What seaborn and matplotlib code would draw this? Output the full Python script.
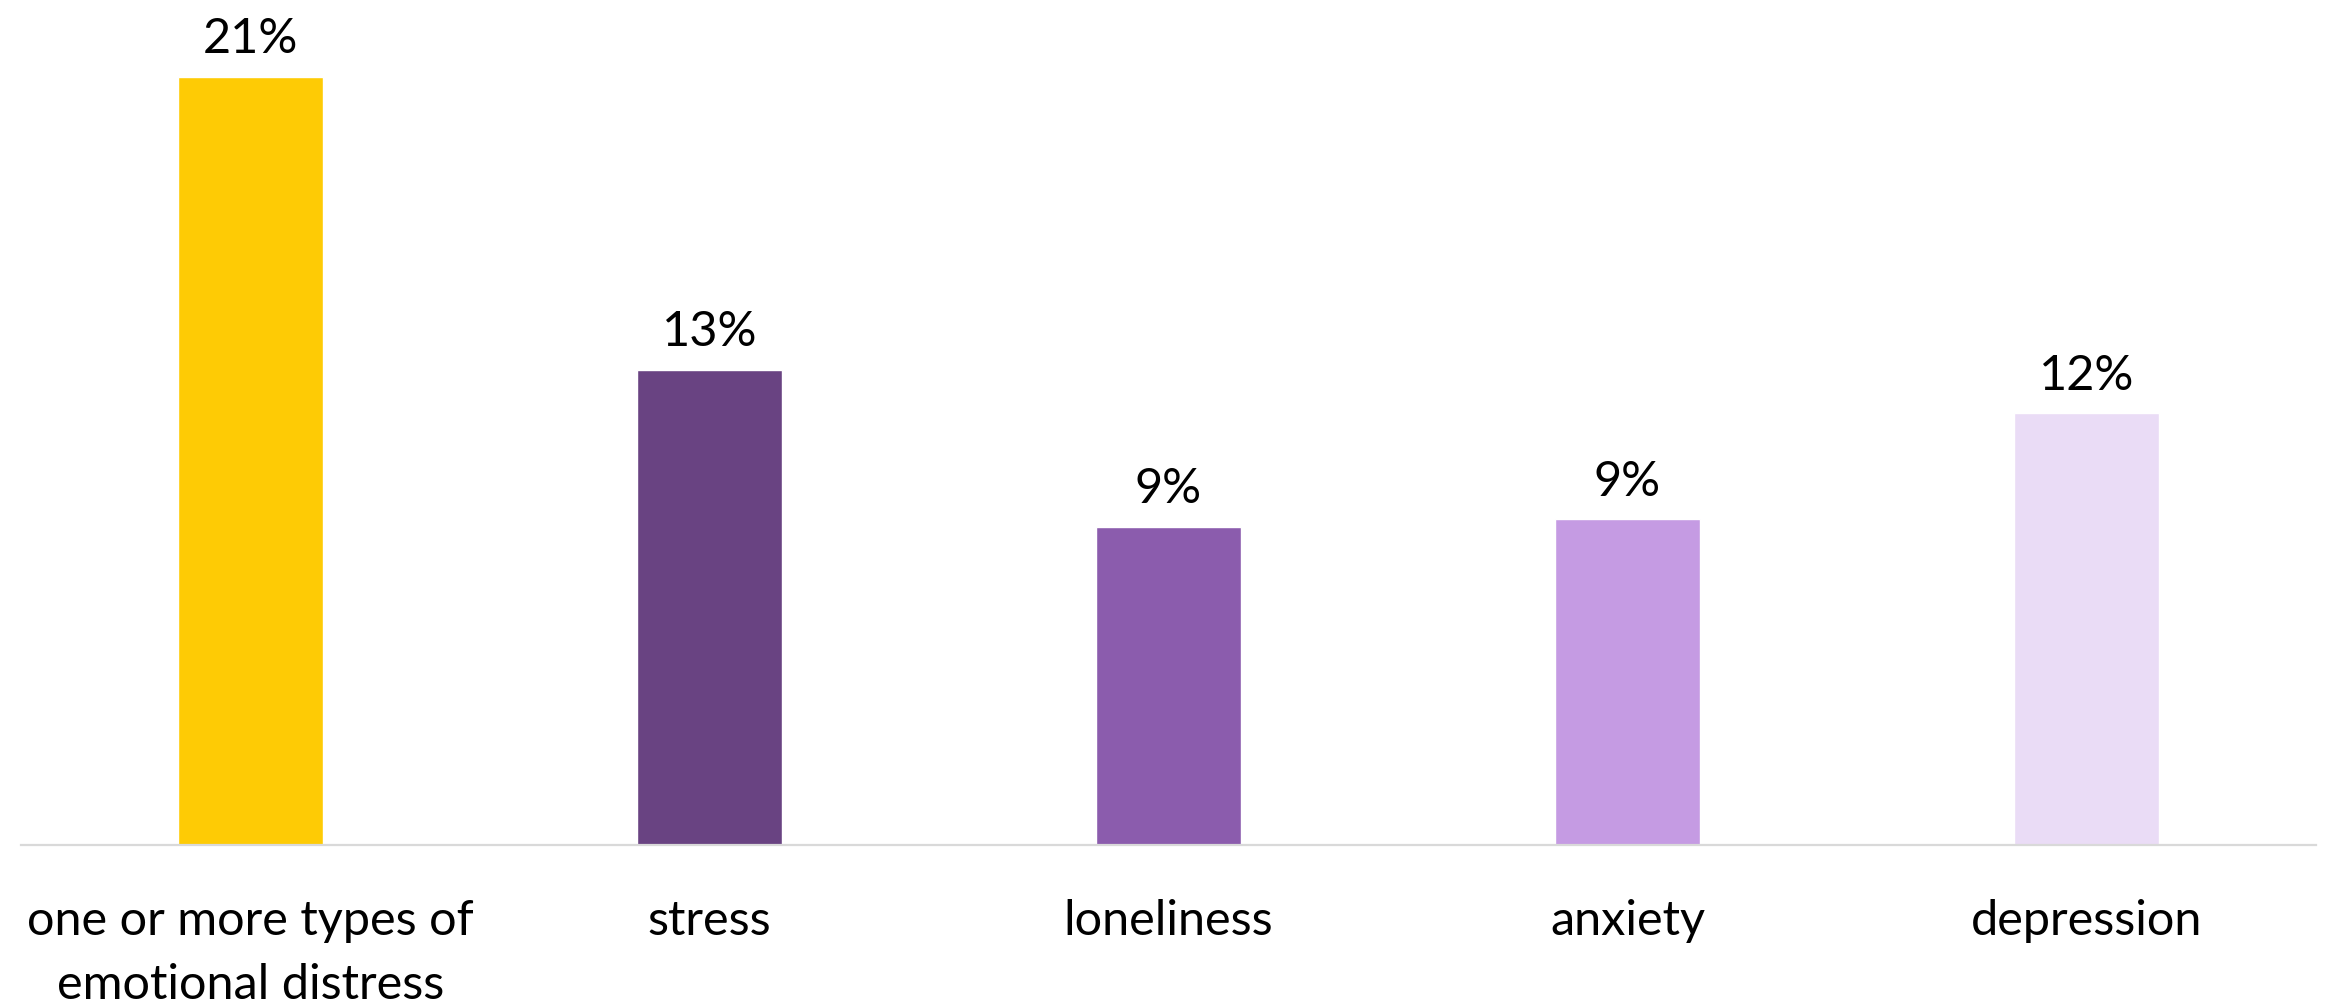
import matplotlib
matplotlib.use("Agg")
import matplotlib.pyplot as plt
import seaborn as sns
import pandas as pd

categories = ["one or more types of\nemotional distress", "stress", "loneliness", "anxiety", "depression"]
shares = [21.0, 13.0, 8.7, 8.9, 11.8]
bar_colors = ["#FECB05", "#694382", "#8B5CAD", "#C59BE3", "#EADCF6"]

sns.set_theme(style="white")
plt.rcParams["font.family"] = ["Lato", "DejaVu Sans"]

df = pd.DataFrame({"category": categories, "share": shares})

fig = plt.figure(figsize=(23.28, 10.03), dpi=100)
ax = fig.add_axes([21 / 2328, 1 - 846 / 1003, (2316 - 21) / 2328, 846 / 1003])

sns.barplot(data=df, x="category", y="share", hue="category",
            palette=bar_colors, width=0.314, legend=False, ax=ax,
            saturation=1)

for cont in ax.containers:
    ax.bar_label(cont, labels=[f"{b.get_height():.0f}%" for b in cont],
                 padding=12, fontsize=35, color="black")

ax.set_xlim(-0.5, 4.5)
ax.set_ylim(0, 23.13)
ax.set_xlabel("")
ax.set_ylabel("")
ax.set_yticks([])
for side in ["top", "left", "right"]:
    ax.spines[side].set_visible(False)
ax.spines["bottom"].set_color("#D9D9D9")
ax.spines["bottom"].set_linewidth(1.6)
ax.tick_params(axis="x", length=0, pad=38, labelsize=35, labelcolor="black")
for lbl in ax.get_xticklabels():
    lbl.set_linespacing(1.55)
    lbl.set_ha("center")

fig.savefig("out.png", dpi=100, facecolor="white")
